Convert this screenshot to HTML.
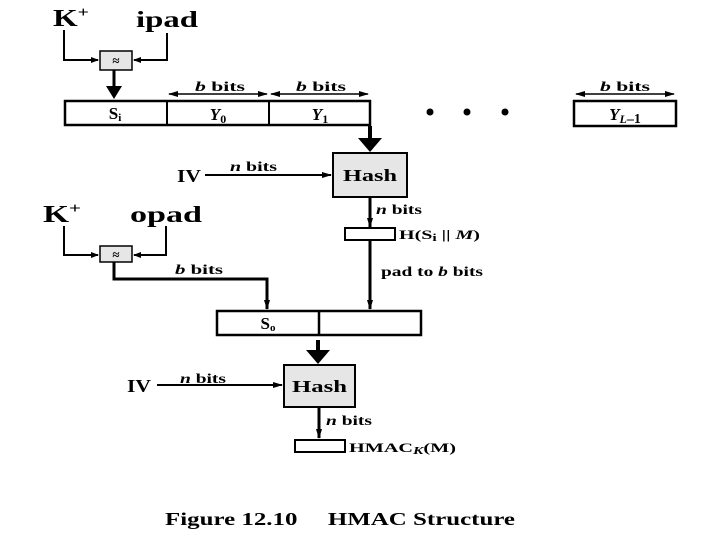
<!DOCTYPE html>
<html><head><meta charset="utf-8"><style>
html,body{margin:0;padding:0;background:#fff}
svg{display:block}
text{font-family:"Liberation Serif",serif;font-weight:bold;fill:#000}
</style></head><body>
<svg width="720" height="540" viewBox="0 0 720 540" xmlns="http://www.w3.org/2000/svg">
<defs>
<marker id="a" markerWidth="8" markerHeight="8" refX="7" refY="4" orient="auto" markerUnits="userSpaceOnUse"><path d="M0,1 L8,4 L0,7 Z"/></marker>
<marker id="as" markerWidth="10" markerHeight="8" refX="9" refY="4" orient="auto-start-reverse" markerUnits="userSpaceOnUse"><path d="M0,1 L10,4 L0,7 Z"/></marker>
</defs>
<g stroke="#000" fill="none">
<polyline points="64,30 64,60 98,60" stroke-width="2" marker-end="url(#a)"/>
<polyline points="167,33 167,60 134,60" stroke-width="2" marker-end="url(#a)"/>
<rect x="100" y="51" width="32" height="19" fill="#e6e6e6" stroke-width="1.5"/>
<line x1="114" y1="70" x2="114" y2="88" stroke-width="3"/>
<path d="M106,86 L122,86 L114,99 Z" fill="#000" stroke="none"/>
<rect x="65" y="101" width="305" height="24" stroke-width="2.5"/>
<line x1="167" y1="101" x2="167" y2="125" stroke-width="2"/>
<line x1="269" y1="101" x2="269" y2="125" stroke-width="2"/>
<line x1="169" y1="94" x2="267" y2="94" stroke-width="1.5" marker-start="url(#as)" marker-end="url(#as)"/>
<line x1="271" y1="94" x2="368" y2="94" stroke-width="1.5" marker-start="url(#as)" marker-end="url(#as)"/>
<rect x="574" y="101" width="102" height="25" stroke-width="2.5"/>
<line x1="576" y1="94" x2="674" y2="94" stroke-width="1.5" marker-start="url(#as)" marker-end="url(#as)"/>
<line x1="370" y1="126" x2="370" y2="140" stroke-width="4"/>
<path d="M358,138 L382,138 L370,152 Z" fill="#000" stroke="none"/>
<rect x="333" y="153" width="74" height="44" fill="#e6e6e6" stroke-width="2"/>
<line x1="205" y1="175" x2="331" y2="175" stroke-width="2" marker-end="url(#as)"/>
<line x1="370" y1="197" x2="370" y2="227" stroke-width="3" marker-end="url(#as)"/>
<rect x="345" y="228" width="50" height="12" stroke-width="2"/>
<line x1="370" y1="240" x2="370" y2="309" stroke-width="3" marker-end="url(#as)"/>
<polyline points="64,226 64,255 98,255" stroke-width="2" marker-end="url(#a)"/>
<polyline points="166,226 166,255 134,255" stroke-width="2" marker-end="url(#a)"/>
<rect x="100" y="246" width="32" height="16" fill="#e6e6e6" stroke-width="1.5"/>
<polyline points="114,262 114,279 267,279 267,309" stroke-width="3" marker-end="url(#as)"/>
<rect x="217" y="311" width="204" height="24" stroke-width="2.5"/>
<line x1="319" y1="311" x2="319" y2="335" stroke-width="2.5"/>
<line x1="318" y1="340" x2="318" y2="352" stroke-width="4"/>
<path d="M306,350 L330,350 L318,364 Z" fill="#000" stroke="none"/>
<rect x="284" y="365" width="71" height="42" fill="#e6e6e6" stroke-width="2"/>
<line x1="157" y1="385" x2="282" y2="385" stroke-width="2" marker-end="url(#as)"/>
<line x1="319" y1="407" x2="319" y2="438" stroke-width="3" marker-end="url(#as)"/>
<rect x="295" y="440" width="50" height="12" stroke-width="2"/>
</g>
<g fill="#000"><circle cx="430" cy="112" r="3.5"/><circle cx="467" cy="112" r="3.5"/><circle cx="505" cy="112" r="3.5"/></g>
<text x="53" y="26" font-size="24" textLength="36" lengthAdjust="spacingAndGlyphs">K<tspan font-size="15" dy="-9">+</tspan></text>
<text x="136" y="27" font-size="23" textLength="62" lengthAdjust="spacingAndGlyphs">ipad</text>
<text x="116" y="65" font-size="13" text-anchor="middle">≈</text>
<text x="116" y="259" font-size="13" text-anchor="middle">≈</text>
<text x="195" y="91" font-size="14" textLength="50" lengthAdjust="spacingAndGlyphs"><tspan font-style="italic">b</tspan> bits</text>
<text x="296" y="91" font-size="14" textLength="50" lengthAdjust="spacingAndGlyphs"><tspan font-style="italic">b</tspan> bits</text>
<text x="600" y="91" font-size="14" textLength="50" lengthAdjust="spacingAndGlyphs"><tspan font-style="italic">b</tspan> bits</text>
<text x="115" y="119" font-size="17" text-anchor="middle">S<tspan font-size="11" dy="2">i</tspan></text>
<text x="218" y="120" font-size="17" text-anchor="middle" font-style="italic">Y<tspan font-size="12" dy="3" font-style="normal">0</tspan></text>
<text x="320" y="120" font-size="17" text-anchor="middle" font-style="italic">Y<tspan font-size="12" dy="3" font-style="normal">1</tspan></text>
<text x="625" y="120" font-size="17" text-anchor="middle" font-style="italic">Y<tspan font-size="12" dy="3">L</tspan><tspan font-size="14" font-style="normal">–1</tspan></text>
<text x="177" y="182" font-size="18" textLength="24" lengthAdjust="spacingAndGlyphs">IV</text>
<text x="230" y="171" font-size="14" textLength="47" lengthAdjust="spacingAndGlyphs"><tspan font-style="italic">n</tspan> bits</text>
<text x="343" y="181" font-size="17" textLength="54" lengthAdjust="spacingAndGlyphs">Hash</text>
<text x="376" y="214" font-size="14" textLength="46" lengthAdjust="spacingAndGlyphs"><tspan font-style="italic">n</tspan> bits</text>
<text x="399" y="239" font-size="13" textLength="81" lengthAdjust="spacingAndGlyphs">H(S<tspan font-size="10" dy="2">i</tspan><tspan dy="-2"> || </tspan><tspan font-style="italic">M</tspan>)</text>
<text x="381" y="276" font-size="14" textLength="102" lengthAdjust="spacingAndGlyphs">pad to <tspan font-style="italic">b</tspan> bits</text>
<text x="43" y="222" font-size="24" textLength="38" lengthAdjust="spacingAndGlyphs">K<tspan font-size="15" dy="-9">+</tspan></text>
<text x="130" y="222" font-size="23" textLength="72" lengthAdjust="spacingAndGlyphs">opad</text>
<text x="175" y="274" font-size="14" textLength="48" lengthAdjust="spacingAndGlyphs"><tspan font-style="italic">b</tspan> bits</text>
<text x="268" y="329" font-size="17" text-anchor="middle">S<tspan font-size="11" dy="2">o</tspan></text>
<text x="127" y="392" font-size="18" textLength="24" lengthAdjust="spacingAndGlyphs">IV</text>
<text x="180" y="383" font-size="14" textLength="46" lengthAdjust="spacingAndGlyphs"><tspan font-style="italic">n</tspan> bits</text>
<text x="292" y="392" font-size="17" textLength="55" lengthAdjust="spacingAndGlyphs">Hash</text>
<text x="326" y="425" font-size="14" textLength="46" lengthAdjust="spacingAndGlyphs"><tspan font-style="italic">n</tspan> bits</text>
<text x="349" y="452" font-size="13" textLength="107" lengthAdjust="spacingAndGlyphs">HMAC<tspan font-size="10" dy="2" font-style="italic">K</tspan><tspan dy="-2">(M)</tspan></text>
<text x="165" y="525" font-size="18" textLength="350" lengthAdjust="spacingAndGlyphs">Figure 12.10<tspan dx="22">HMAC Structure</tspan></text>
</svg>
</body></html>
